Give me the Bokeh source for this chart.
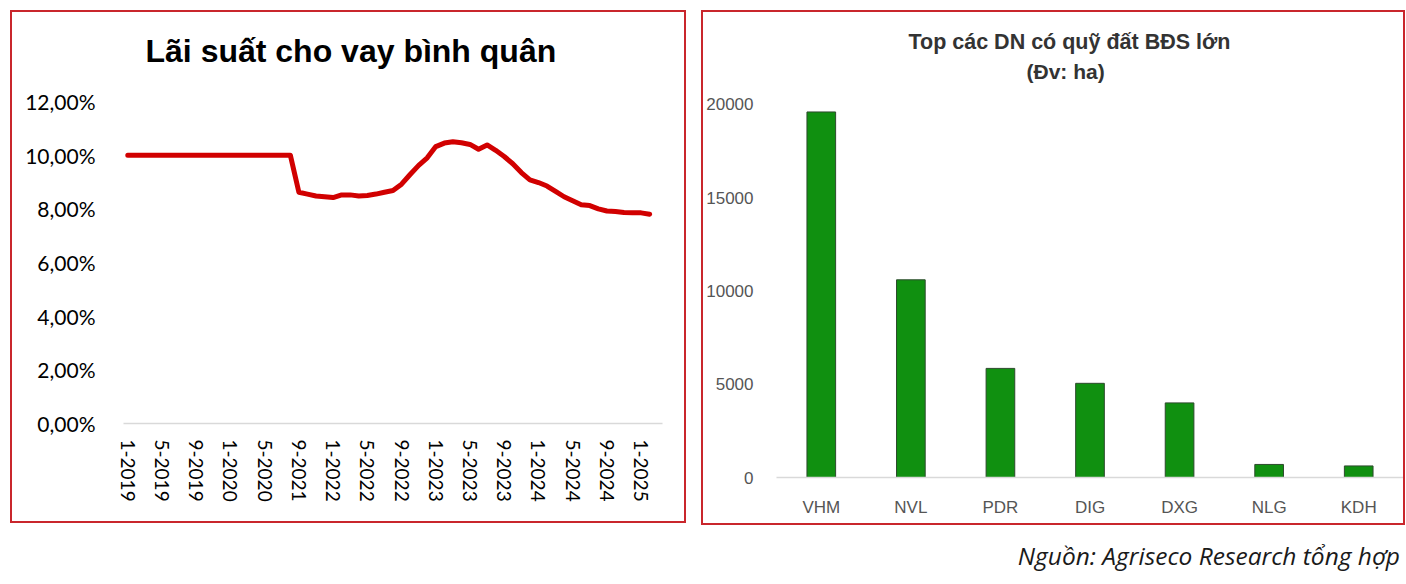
from bokeh.plotting import figure
from bokeh.models import FixedTicker, Range1d, FactorRange, Title, Div, Spacer, ColumnDataSource
from bokeh.layouts import row, column
from bokeh.embed import file_html
from bokeh.resources import INLINE

# ---------------- data ----------------
months = [
    "1-2019", "2-2019", "3-2019", "4-2019", "5-2019", "6-2019", "7-2019", "8-2019",
    "9-2019", "10-2019", "11-2019", "12-2019", "1-2020", "2-2020", "3-2020", "4-2020",
    "5-2020", "6-2020", "7-2020", "8-2020",
    "9-2021", "10-2021", "11-2021", "12-2021",
    "1-2022", "2-2022", "3-2022", "4-2022", "5-2022", "6-2022", "7-2022", "8-2022",
    "9-2022", "10-2022", "11-2022", "12-2022",
    "1-2023", "2-2023", "3-2023", "4-2023", "5-2023", "6-2023", "7-2023", "8-2023",
    "9-2023", "10-2023", "11-2023", "12-2023",
    "1-2024", "2-2024", "3-2024", "4-2024", "5-2024", "6-2024", "7-2024", "8-2024",
    "9-2024", "10-2024", "11-2024", "12-2024",
    "1-2025", "2-2025",
]
lending_rate = [
    10.0, 10.0, 10.0, 10.0, 10.0, 10.0, 10.0, 10.0,
    10.0, 10.0, 10.0, 10.0, 10.0, 10.0, 10.0, 10.0,
    10.0, 10.0, 10.0, 10.0,
    8.62, 8.55, 8.48, 8.45,
    8.42, 8.52, 8.52, 8.48, 8.50, 8.55, 8.62, 8.68,
    8.92, 9.28, 9.62, 9.90,
    10.32, 10.45, 10.50, 10.46, 10.40, 10.22, 10.38, 10.18,
    9.95, 9.68, 9.35, 9.08,
    8.98, 8.85, 8.65, 8.45, 8.30, 8.15, 8.12, 8.00,
    7.92, 7.90, 7.86, 7.85,
    7.85, 7.80,
]
rate_ticks = [0, 2, 4, 6, 8, 10, 12]
rate_tick_labels = ["0,00%", "2,00%", "4,00%", "6,00%", "8,00%", "10,00%", "12,00%"]
month_label_step = 4

companies = ["VHM", "NVL", "PDR", "DIG", "DXG", "NLG", "KDH"]
land_bank_ha = [19600, 10600, 5850, 5050, 4000, 700, 620]
land_ticks = [0, 5000, 10000, 15000, 20000]

left_title = "Lãi suất cho vay bình quân"
right_title = "Top các DN có quỹ đất BĐS lớn"
right_subtitle = "(Đv: ha)"
source_note = "Nguồn: Agriseco Research tổng hợp"

BORDER = "2px solid #c9262c"

# ---------------- left chart ----------------
x_idx = list(range(len(months)))
src1 = ColumnDataSource(dict(x=x_idx, y=lending_rate))

p1 = figure(width=676, height=513, output_backend="svg", toolbar_location=None,
            x_range=Range1d(-0.5, len(months) + 0.5), y_range=Range1d(0, 13.155),
            min_border_left=111, min_border_right=26, min_border_top=58, min_border_bottom=102,
            background_fill_color="white", border_fill_color="white",
            styles={"border": BORDER}, margin=(10, 0, 0, 10), frame_align=False)
p1.outline_line_color = None
p1.grid.grid_line_color = None
p1.line("x", "y", source=src1, line_color="#d10000", line_width=5,
        line_cap="round", line_join="round")

tick_pos = x_idx[::month_label_step]
p1.xaxis.ticker = FixedTicker(ticks=tick_pos)
p1.xaxis.major_label_overrides = {i: months[i] for i in tick_pos}
p1.xaxis.major_label_orientation = "vertical"
p1.xaxis.major_label_text_font = "Lato"
p1.xaxis.major_label_text_font_size = "19px"
p1.xaxis.major_label_text_color = "#000000"
p1.xaxis.major_label_standoff = 10
p1.xaxis.axis_line_color = "#d9d9d9"
p1.xaxis.axis_line_width = 1.5
p1.xaxis.major_tick_line_color = None
p1.xaxis.minor_tick_line_color = None

p1.yaxis.ticker = FixedTicker(ticks=rate_ticks)
p1.yaxis.major_label_overrides = dict(zip(rate_ticks, rate_tick_labels))
p1.yaxis.major_label_text_font = "Lato"
p1.yaxis.major_label_text_font_size = "21px"
p1.yaxis.major_label_text_color = "#000000"
p1.yaxis.major_label_standoff = 22
p1.yaxis.axis_line_color = None
p1.yaxis.major_tick_line_color = None
p1.yaxis.minor_tick_line_color = None

p1.add_layout(Title(text=left_title, align="left", offset=22,
                    text_font="Liberation Sans", text_font_style="bold",
                    text_font_size="32px", text_color="#000000", standoff=4), "above")

# ---------------- right chart ----------------
src2 = ColumnDataSource(dict(c=companies, v=land_bank_ha))
p2 = figure(width=704, height=515, output_backend="svg", toolbar_location=None,
            x_range=FactorRange(*companies, range_padding=0), y_range=Range1d(0, 21126),
            min_border_left=69, min_border_right=4, min_border_top=71, min_border_bottom=50,
            background_fill_color="white", border_fill_color="white",
            styles={"border": BORDER}, margin=(10, 0, 0, 0), frame_align=False)
p2.outline_line_color = None
p2.grid.grid_line_color = None
p2.vbar(x="c", top="v", source=src2, width=0.32, fill_color="#109010",
        line_color="#2d4a2d", line_width=1)

p2.yaxis.ticker = FixedTicker(ticks=land_ticks)
p2.yaxis.major_label_text_font = "Liberation Sans"
p2.yaxis.major_label_text_font_size = "17px"
p2.yaxis.major_label_text_color = "#555555"
p2.yaxis.major_label_standoff = 17
p2.yaxis.axis_line_color = None
p2.yaxis.major_tick_line_color = None
p2.yaxis.minor_tick_line_color = None

p2.xaxis.major_label_text_font = "Liberation Sans"
p2.xaxis.major_label_text_font_size = "17px"
p2.xaxis.major_label_text_color = "#555555"
p2.xaxis.major_label_standoff = 14
p2.xaxis.axis_line_color = "#d9d9d9"
p2.xaxis.axis_line_width = 1.5
p2.xaxis.major_tick_line_color = None
p2.xaxis.minor_tick_line_color = None

p2.add_layout(Title(text=right_subtitle, align="left", offset=250,
                    text_font="Liberation Sans", text_font_style="bold",
                    text_font_size="21px", text_color="#333333", standoff=2), "above")
p2.add_layout(Title(text=right_title, align="left", offset=132,
                    text_font="Liberation Sans", text_font_style="bold",
                    text_font_size="21.5px", text_color="#333333", standoff=5), "above")

# ---------------- footer ----------------
footer = Div(text=source_note, width=1400, height=36, margin=(13, 0, 0, 0),
             styles={"text-align": "right", "font-style": "italic", "font-size": "24.5px",
                     "font-family": "Open Sans", "color": "#1a1a1a", "width": "1400px"})

layout = column(row(p1, Spacer(width=15), p2), footer)
open("out.html", "w").write(file_html(layout, INLINE))
